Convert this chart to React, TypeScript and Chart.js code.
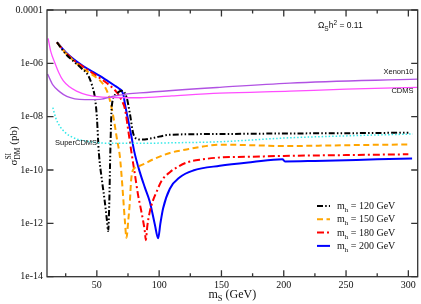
import React, { useEffect, useRef } from "react";
import { Chart, registerables } from "chart.js";
Chart.register(...registerables);

// ---- data (m_S in GeV, log10 of sigma in pb) ----
const h120Mass = [18, 25, 32, 38, 43, 46, 48.5, 50, 51.6, 54, 56.4, 58, 59.1, 60.0, 60.8, 62.0, 65.2, 70, 73.8, 76.5, 79.1, 81.9, 86, 95, 108, 150, 200, 250, 300];
const h120LogSigma = [-5.21, -5.65, -5.95, -6.2, -6.45, -6.8, -7.3, -8.0, -9.35, -10.35, -11.19, -11.85, -12.29, -11.19, -9.35, -7.6, -7.16, -7.03, -7.26, -7.88, -8.61, -8.83, -8.86, -8.8, -8.68, -8.65, -8.63, -8.62, -8.6];

const h150Mass = [18, 25, 32, 39, 46, 52, 56, 59, 62, 64, 66, 68.5, 70, 71.1, 72.5, 73.8, 75.2, 76.5, 77.5, 79, 84.5, 95.2, 108.6, 122, 135, 148.7, 175, 200, 250, 300];
const h150LogSigma = [-5.21, -5.62, -5.93, -6.2, -6.42, -6.62, -6.85, -7.14, -7.7, -8.2, -8.8, -9.5, -10.3, -11.0, -11.9, -12.54, -11.9, -11.19, -10.4, -10.0, -9.84, -9.6, -9.36, -9.23, -9.12, -9.05, -9.07, -9.1, -9.07, -9.04];

const h180Mass = [18, 25, 32, 39, 46, 52, 58, 64, 67, 70, 72.5, 75, 77.8, 80.5, 83.1, 85.5, 87.2, 88.5, 89.3, 90.5, 92.5, 95, 97.9, 102, 108.6, 115, 122, 135, 148.7, 175, 200, 250, 300];
const h180LogSigma = [-5.21, -5.6, -5.9, -6.13, -6.35, -6.54, -6.74, -6.98, -7.15, -7.4, -7.7, -8.45, -9.35, -10.15, -10.94, -11.5, -11.92, -12.3, -12.63, -12.1, -11.56, -11.15, -10.82, -10.4, -10.08, -9.88, -9.72, -9.6, -9.53, -9.5, -9.47, -9.44, -9.41];

const h200Mass = [18, 25, 32, 39, 46, 52.4, 58, 64.5, 68, 70, 71.5, 72.5, 75.1, 77.8, 80, 84.5, 88.5, 92.5, 96.5, 99.2, 101, 103.2, 108.6, 116.6, 127.3, 148.7, 175, 199, 201, 225, 250, 275, 303];
const h200LogSigma = [-5.21, -5.58, -5.87, -6.1, -6.3, -6.47, -6.64, -6.84, -6.95, -7.04, -7.22, -7.51, -8.12, -8.75, -9.3, -10.08, -10.65, -11.19, -12.03, -12.56, -12.0, -11.43, -10.7, -10.27, -10.02, -9.84, -9.7, -9.6, -9.68, -9.66, -9.63, -9.6, -9.57];

const xenonMass = [10.5, 14.7, 20.3, 25.9, 32.3, 40.4, 52.4, 64.4, 72.5, 84.5, 148.7, 204.9, 308];
const xenonLogSigma = [-6.4, -6.81, -7.07, -7.24, -7.33, -7.36, -7.35, -7.22, -7.16, -7.11, -6.9, -6.74, -6.59];

const cdmsMass = [10.9, 13, 16.3, 19.5, 23, 28, 33.7, 42, 52.4, 65, 84.5, 110, 148.7, 204.9, 250, 308];
const cdmsLogSigma = [-5.06, -5.55, -5.98, -6.35, -6.65, -6.88, -7.04, -7.18, -7.26, -7.28, -7.29, -7.22, -7.12, -7.04, -6.97, -6.9];

const superMass = [14.7, 17.1, 20.3, 24.3, 29.9, 36.4, 44.4, 60.4, 84.5, 110, 148.7, 200.9, 250, 303.6];
const superLogSigma = [-7.66, -8.06, -8.36, -8.58, -8.76, -8.87, -8.94, -9.0, -9.0, -8.98, -8.94, -8.8, -8.72, -8.65];

const yTickValues = [1e-14, 1e-12, 1e-10, 1e-8, 1e-6, 1e-4];
const yTickLabels = ["1e-14", "1e-12", "1e-10", "1e-08", "1e-06", "0.0001"];
const xMajorTicks = [50, 100, 150, 200, 250, 300];
const xMinorTicks = [25, 75, 125, 175, 225, 275];
const legendMasses = ["120", "150", "180", "200"];

const SERIF = '"Liberation Serif", "DejaVu Serif", serif';
const SANS = '"Liberation Sans", Arial, sans-serif';

const styles = [
  { color: "#000000", dash: [6, 2.2, 1.5, 2.2, 1.5, 2.2], width: 2 },
  { color: "#ffa500", dash: [6, 3.5], width: 2 },
  { color: "#ff0000", dash: [7, 3, 2, 3], width: 2 },
  { color: "#0000ff", dash: [], width: 2 },
];

function toPoints(ms: number[], ls: number[]) {
  return ms.map((m, i) => ({ x: m, y: Math.pow(10, ls[i]) }));
}

type Seg = { t: string; size: number; dy: number; font: string };
function drawRich(ctx: CanvasRenderingContext2D, segs: Seg[], x: number, y: number, align: "left" | "center" | "right") {
  ctx.textAlign = "left";
  let total = 0;
  const widths = segs.map((s) => {
    ctx.font = `${s.size}px ${s.font}`;
    const w = ctx.measureText(s.t).width;
    total += w;
    return w;
  });
  let cx = align === "left" ? x : align === "center" ? x - total / 2 : x - total;
  segs.forEach((s, i) => {
    ctx.font = `${s.size}px ${s.font}`;
    ctx.fillText(s.t, cx, y + s.dy);
    cx += widths[i];
  });
}

const overlay = {
  id: "overlay",
  afterDraw(chart: any) {
    const { ctx, chartArea: a } = chart;
    const x = chart.scales.x;
    const y = chart.scales.y;
    ctx.save();
    ctx.textAlign = "left";
    ctx.textBaseline = "alphabetic";
    ctx.strokeStyle = "#333";
    ctx.lineWidth = 1.3;
    ctx.setLineDash([]);
    ctx.strokeRect(a.left, a.top, a.right - a.left, a.bottom - a.top);
    ctx.beginPath();
    const xt = (v: number, len: number) => {
      const px = x.getPixelForValue(v);
      ctx.moveTo(px, a.bottom);
      ctx.lineTo(px, a.bottom - len);
      ctx.moveTo(px, a.top);
      ctx.lineTo(px, a.top + len);
    };
    xMajorTicks.forEach((v) => xt(v, 6.5));
    xMinorTicks.forEach((v) => xt(v, 3.5));
    yTickValues.forEach((v) => {
      const py = y.getPixelForValue(v);
      ctx.moveTo(a.left, py);
      ctx.lineTo(a.left + 6.5, py);
      ctx.moveTo(a.right, py);
      ctx.lineTo(a.right - 6.5, py);
    });
    ctx.stroke();

    ctx.fillStyle = "#111";
    // x title
    drawRich(
      ctx,
      [
        { t: "m", size: 12, dy: 0, font: SERIF },
        { t: "S", size: 8.5, dy: 3, font: SERIF },
        { t: " (GeV)", size: 12, dy: 0, font: SERIF },
      ],
      (a.left + a.right) / 2,
      298,
      "center"
    );
    // y title (rotated)
    ctx.save();
    ctx.translate(17, 146);
    ctx.rotate(-Math.PI / 2);
    ctx.textAlign = "left";
    ctx.font = `11px ${SERIF}`;
    const wSig = ctx.measureText("σ").width;
    ctx.font = `7.5px ${SERIF}`;
    const wSI = ctx.measureText("SI").width;
    const wDM = ctx.measureText("DM").width;
    ctx.font = `11px ${SERIF}`;
    const wPb = ctx.measureText(" (pb)").width;
    const stack = Math.max(wSI, wDM);
    const tot = wSig + stack + wPb;
    let sx = -tot / 2;
    ctx.fillText("σ", sx, 0);
    sx += wSig;
    ctx.font = `7.5px ${SERIF}`;
    ctx.fillText("SI", sx, -6);
    ctx.fillText("DM", sx, 3);
    sx += stack;
    ctx.font = `11px ${SERIF}`;
    ctx.fillText(" (pb)", sx, 0);
    ctx.restore();

    // Omega label
    drawRich(
      ctx,
      [
        { t: "Ω", size: 8.5, dy: 0, font: SANS },
        { t: "S", size: 6.5, dy: 2.5, font: SANS },
        { t: "h", size: 8.5, dy: 0, font: SANS },
        { t: "2", size: 6.5, dy: -3.5, font: SANS },
        { t: " = 0.11", size: 8.5, dy: 0, font: SANS },
      ],
      318,
      28,
      "left"
    );
    // experiment labels
    ctx.font = `7.5px ${SANS}`;
    ctx.textAlign = "right";
    ctx.fillText("Xenon10", 413.5, 73.5);
    ctx.fillText("CDMS", 413.5, 92.5);
    ctx.textAlign = "left";
    ctx.fillText("SuperCDMS", 55, 145);

    // legend
    const rowY = [206, 219.3, 232.6, 245.9];
    styles.forEach((s, i) => {
      ctx.beginPath();
      ctx.strokeStyle = s.color;
      ctx.lineWidth = s.width;
      ctx.setLineDash(s.dash);
      ctx.moveTo(317, rowY[i]);
      ctx.lineTo(330, rowY[i]);
      ctx.stroke();
      ctx.setLineDash([]);
      ctx.fillStyle = "#111";
      drawRich(
        ctx,
        [
          { t: "m", size: 10, dy: 0, font: SERIF },
          { t: "h", size: 7, dy: 3, font: SERIF },
          { t: " = " + legendMasses[i] + " GeV", size: 10, dy: 0, font: SERIF },
        ],
        337,
        rowY[i] + 3,
        "left"
      );
    });
    ctx.restore();
  },
};

export default function App() {
  const ref = useRef<HTMLCanvasElement>(null);
  useEffect(() => {
    const main = [
      [h120Mass, h120LogSigma],
      [h150Mass, h150LogSigma],
      [h180Mass, h180LogSigma],
      [h200Mass, h200LogSigma],
    ];
    const datasets: any[] = [
      {
        label: "Xenon10",
        data: toPoints(xenonMass, xenonLogSigma),
        borderColor: "#b152e3",
        borderWidth: 1.3,
      },
      {
        label: "CDMS",
        data: toPoints(cdmsMass, cdmsLogSigma),
        borderColor: "#ff4dff",
        borderWidth: 1.3,
      },
      {
        label: "SuperCDMS",
        data: toPoints(superMass, superLogSigma),
        borderColor: "#33e8e8",
        borderWidth: 1.5,
        borderDash: [1.5, 2],
      },
    ];
    main.forEach((d, i) => {
      datasets.push({
        label: "m_h = " + legendMasses[i] + " GeV",
        data: toPoints(d[0] as number[], d[1] as number[]),
        borderColor: styles[i].color,
        borderWidth: styles[i].width,
        borderDash: styles[i].dash,
      });
    });
    datasets.forEach((ds) => {
      ds.pointRadius = 0;
      ds.fill = false;
      ds.cubicInterpolationMode = "monotone";
    });
    const chart = new Chart(ref.current as HTMLCanvasElement, {
      type: "line",
      data: { datasets },
      options: {
        responsive: false,
        animation: false,
        devicePixelRatio: 1,
        layout: { padding: { left: 0, top: 4.4, right: 3.3, bottom: 0 } },
        plugins: { legend: { display: false }, tooltip: { enabled: false } },
        scales: {
          x: {
            type: "linear",
            min: 10,
            max: 307.5,
            grid: { display: false, drawTicks: false },
            border: { display: false },
            afterBuildTicks: (s: any) => {
              s.ticks = xMajorTicks.map((v) => ({ value: v }));
            },
            afterFit: (s: any) => {
              s.height = 27.3;
            },
            ticks: {
              padding: 3,
              color: "#111",
              font: { family: SERIF, size: 10 },
              maxRotation: 0,
              autoSkip: false,
              callback: (v: any) => String(v),
            },
          },
          y: {
            type: "logarithmic",
            min: 1e-14,
            max: 1e-4,
            grid: { display: false, drawTicks: false },
            border: { display: false },
            afterBuildTicks: (s: any) => {
              s.ticks = yTickValues.map((v) => ({ value: v }));
            },
            afterFit: (s: any) => {
              s.width = 47;
            },
            ticks: {
              padding: 4,
              color: "#111",
              font: { family: SERIF, size: 10 },
              autoSkip: false,
              callback: (_v: any, i: number) => yTickLabels[i],
            },
          },
        },
      } as any,
      plugins: [overlay],
    });
    return () => chart.destroy();
  }, []);
  return (
    <div style={{ position: "absolute", left: 0, top: 0, width: 421, height: 304 }}>
      <canvas ref={ref} width={421} height={304} style={{ display: "block" }} />
    </div>
  );
}
